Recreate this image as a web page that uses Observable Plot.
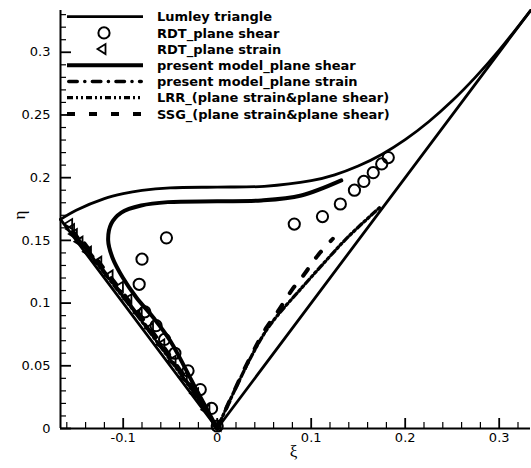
<!DOCTYPE html>
<html><head><meta charset="utf-8">
<script src="https://cdn.jsdelivr.net/npm/d3@7"></script>
<script src="https://cdn.jsdelivr.net/npm/@observablehq/plot@0.6"></script>
<style>
body{margin:0;background:#fff;}
#chart{position:relative;width:531px;height:468px;}
#legend{position:absolute;left:0;top:0;pointer-events:none;}
</style></head><body><div id="chart"></div>
<script>
// ---- axes ----
const xDomain = [-0.1667, 0.3333];
const yDomain = [0, 0.3333];
const xMajor = [-0.1, 0, 0.1, 0.2, 0.3];
const xMinor = [-0.16,-0.14,-0.12,-0.08,-0.06,-0.04,-0.02,0.02,0.04,0.06,0.08,0.12,0.14,0.16,0.18,0.22,0.24,0.26,0.28,0.32];
const yMajor = [0, 0.05, 0.1, 0.15, 0.2, 0.25, 0.3];
const yMinor = [0.01,0.02,0.03,0.04,0.06,0.07,0.08,0.09,0.11,0.12,0.13,0.14,0.16,0.17,0.18,0.19,0.21,0.22,0.23,0.24,0.26,0.27,0.28,0.29,0.31,0.32,0.33];
const xLabel = "ξ";
const yLabel = "η";

// ---- Lumley triangle ----
const lumleyLeftXi = [0, -0.1667];
const lumleyLeftEta = [0, 0.1667];
const lumleyTopXi = [-0.1667,-0.15,-0.12,-0.1,-0.08,-0.05,0,0.05,0.1,0.125,0.15,0.175,0.2,0.225,0.25,0.275,0.3,0.3333];
const lumleyTopEta = [0.1667,0.1740,0.1833,0.1872,0.1898,0.1918,0.1925,0.1931,0.1976,0.2023,0.2093,0.2185,0.2303,0.2446,0.2613,0.2804,0.3017,0.3333];
const lumleyRightXi = [0, 0.3333];
const lumleyRightEta = [0, 0.3333];

// ---- RDT plane shear (circles) ----
const rdtShearXi = [0,-0.006,-0.018,-0.031,-0.045,-0.056,-0.065,-0.077,-0.083,-0.080,-0.054,0.082,0.112,0.131,0.146,0.156,0.166,0.175,0.182];
const rdtShearEta = [0.002,0.016,0.031,0.046,0.060,0.071,0.082,0.093,0.115,0.135,0.152,0.163,0.169,0.179,0.190,0.197,0.204,0.211,0.216];

// ---- RDT plane strain (triangles) ----
const rdtStrainXi = [-0.158,-0.156,-0.153,-0.147,-0.138,-0.127,-0.115,-0.104,-0.095,-0.084,-0.072,-0.060,-0.048,-0.036,-0.024,-0.012,0];
const rdtStrainEta = [0.163,0.159,0.155,0.149,0.141,0.133,0.122,0.113,0.103,0.092,0.080,0.067,0.054,0.041,0.028,0.015,0.002];

// ---- present model, plane shear ----
const pmShearXi = [0,-0.025,-0.05,-0.068,-0.086,-0.1005,-0.1115,-0.116,-0.1128,-0.102,-0.0809,-0.0525,0,0.047,0.0894,0.132];
const pmShearEta = [0,0.035,0.070,0.0885,0.1045,0.1204,0.1364,0.150,0.1632,0.1722,0.1778,0.1805,0.1812,0.1818,0.1858,0.1978];

// ---- present model, plane strain ----
const pmStrainXi = [0,-0.03,-0.06,-0.09,-0.12,-0.15,-0.158];
const pmStrainEta = [0,0.035,0.066,0.096,0.125,0.154,0.162];

// ---- LRR ----
const lrrStrainXi = [0,-0.03,-0.06,-0.09,-0.12,-0.155];
const lrrStrainEta = [0,0.034,0.065,0.095,0.124,0.158];
const lrrShearXi = [0,0.012,0.036,0.052,0.064,0.085,0.11,0.139,0.1726];
const lrrShearEta = [0,0.020,0.057,0.078,0.090,0.108,0.129,0.1526,0.176];

// ---- SSG ----
const ssgStrainXi = [0,-0.03,-0.06,-0.09,-0.12,-0.15];
const ssgStrainEta = [0,0.036,0.068,0.098,0.127,0.156];
const ssgShearXi = [0,0.012,0.036,0.052,0.066,0.079,0.093,0.107,0.123];
const ssgShearEta = [0,0.020,0.058,0.080,0.095,0.110,0.1234,0.138,0.1513];

// ---- legend ----
const legendLabels = [
  "Lumley triangle",
  "RDT_plane shear",
  "RDT_plane strain",
  "present model_plane shear",
  "present model_plane strain",
  "LRR_(plane strain&plane shear)",
  "SSG_(plane strain&plane shear)"
];

const rows = (xs, ys) => xs.map((x, i) => ({x, y: ys[i]}));

const styles = {
  lumley: {stroke: "#000", strokeWidth: 2.8},
  pmShear: {stroke: "#000", strokeWidth: 4},
  pmStrain: {stroke: "#000", strokeWidth: 3.5, strokeDasharray: "8.5,7.5,0.1,7.5", strokeLinecap: "round"},
  lrr: {stroke: "#000", strokeWidth: 3.3, strokeDasharray: "6,3,2,3,2,3"},
  ssg: {stroke: "#000", strokeWidth: 4, strokeDasharray: "8,14"}
};

const triLeft = {
  draw(ctx) {
    ctx.moveTo(-4.5, 0);
    ctx.lineTo(3.5, -5);
    ctx.lineTo(3.5, 5);
    ctx.closePath();
  }
};

const plot = Plot.plot({
  width: 531,
  height: 468,
  marginTop: 10,
  marginBottom: 40,
  marginLeft: 60,
  marginRight: 1,
  x: {domain: xDomain},
  y: {domain: yDomain},
  style: {fontFamily: "DejaVu Sans", fontSize: "13px", color: "#000", background: "#fff", overflow: "visible"},
  marks: [
    Plot.axisX(xMajor, {anchor: "bottom", tickSize: 0, tickPadding: 4, tickFormat: d => String(d), label: null}),
    Plot.axisY(yMajor, {anchor: "left", tickSize: 0, tickPadding: 10, tickFormat: d => String(d), label: null}),
    Plot.tickX(xMajor, {x: d => d, insetTop: 408, strokeWidth: 1.8}),
    Plot.tickX(xMinor, {x: d => d, insetTop: 412, strokeWidth: 1.2}),
    Plot.tickY(yMajor, {y: d => d, insetRight: 459, strokeWidth: 1.8}),
    Plot.tickY(yMinor, {y: d => d, insetRight: 464, strokeWidth: 1.2}),
    Plot.ruleY([yDomain[0]], {strokeWidth: 2}),
    Plot.ruleX([xDomain[0]], {strokeWidth: 2}),
    Plot.text([xLabel], {text: d => d, frameAnchor: "bottom", dy: 28, dx: -2, fontFamily: "Liberation Serif", fontSize: 17}),
    Plot.text([yLabel], {text: d => d, frameAnchor: "left", dx: -41, rotate: -90, fontFamily: "Liberation Serif", fontSize: 17}),

    Plot.line(rows(lumleyLeftXi, lumleyLeftEta), {x: "x", y: "y", ...styles.lumley}),
    Plot.line(rows(lumleyTopXi, lumleyTopEta), {x: "x", y: "y", curve: "catmull-rom", ...styles.lumley}),
    Plot.line(rows(lumleyRightXi, lumleyRightEta), {x: "x", y: "y", ...styles.lumley}),

    Plot.line(rows(ssgStrainXi, ssgStrainEta), {x: "x", y: "y", curve: "catmull-rom", ...styles.ssg}),
    Plot.line(rows(ssgShearXi, ssgShearEta), {x: "x", y: "y", curve: "catmull-rom", ...styles.ssg}),
    Plot.line(rows(lrrStrainXi, lrrStrainEta), {x: "x", y: "y", curve: "catmull-rom", ...styles.lrr}),
    Plot.line(rows(lrrShearXi, lrrShearEta), {x: "x", y: "y", curve: "catmull-rom", ...styles.lrr}),
    Plot.line(rows(pmStrainXi, pmStrainEta), {x: "x", y: "y", curve: "catmull-rom", ...styles.pmStrain}),
    Plot.line(rows(pmShearXi, pmShearEta), {x: "x", y: "y", curve: "catmull-rom", ...styles.pmShear}),

    Plot.dot(rows(rdtStrainXi, rdtStrainEta), {x: "x", y: "y", symbol: triLeft, r: 5, stroke: "#000", strokeWidth: 1.8, fill: "none"}),
    Plot.dot(rows(rdtShearXi, rdtShearEta), {x: "x", y: "y", r: 5.6, stroke: "#000", strokeWidth: 2, fill: "none"})
  ]
});

const chart = document.getElementById("chart");
chart.appendChild(plot);

// legend overlay (inside the plot area, top-left)
const lg = d3.select(chart).append("svg")
  .attr("id", "legend").attr("width", 531).attr("height", 130)
  .attr("font-family", "DejaVu Sans").attr("font-weight", "bold").attr("font-size", 13);
const rowY = i => 16.7 + i * 16.2;
const sampleKinds = ["lumley", "circle", "triangle", "pmShear", "pmStrain", "lrr", "ssg"];
legendLabels.forEach((label, i) => {
  const y = rowY(i);
  const kind = sampleKinds[i];
  if (kind === "circle") {
    lg.append("circle").attr("cx", 104).attr("cy", y).attr("r", 5.6)
      .attr("fill", "none").attr("stroke", "#000").attr("stroke-width", 2);
  } else if (kind === "triangle") {
    lg.append("path").attr("d", `M${102 - 4.5},${y}L${102 + 3.5},${y - 5}L${102 + 3.5},${y + 5}Z`)
      .attr("fill", "none").attr("stroke", "#000").attr("stroke-width", 1.8);
  } else {
    const s = styles[kind];
    const x1 = s.strokeLinecap === "round" ? 67 + s.strokeWidth / 2 : 67;
    const x2 = s.strokeLinecap === "round" ? 143 - s.strokeWidth / 2 : 143;
    lg.append("line").attr("x1", x1).attr("x2", x2).attr("y1", y).attr("y2", y)
      .attr("stroke", s.stroke).attr("stroke-width", s.strokeWidth)
      .attr("stroke-linecap", s.strokeLinecap || null)
      .attr("stroke-dasharray", s.strokeDasharray || null);
  }
  lg.append("text").attr("x", 157).attr("y", y + 4.7).attr("fill", "#000").text(label);
});
</script></body></html>
